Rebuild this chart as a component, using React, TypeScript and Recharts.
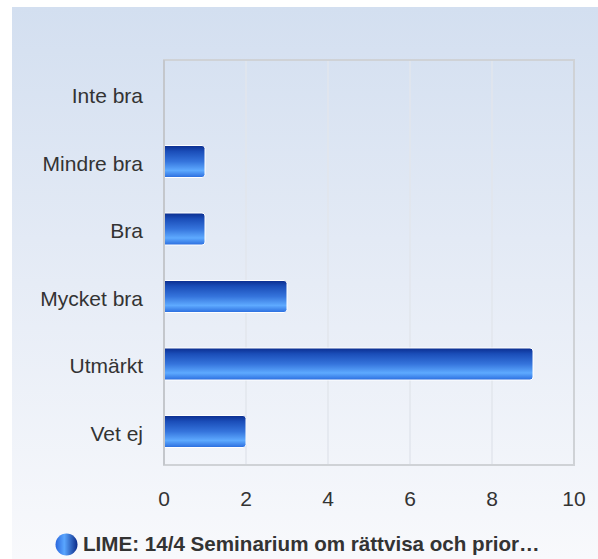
import {
  Bar,
  BarChart,
  CartesianGrid,
  Legend,
  ReferenceArea,
  XAxis,
  YAxis,
} from "recharts";

const categories = ["Inte bra", "Mindre bra", "Bra", "Mycket bra", "Utmärkt", "Vet ej"];
const answers = [0, 1, 1, 3, 9, 2];
const xTicks = [0, 2, 4, 6, 8, 10];
const seriesName = "LIME: 14/4 Seminarium om rättvisa och prior…";

const data = categories.map((label, i) => ({ label, value: answers[i] }));

const FONT = "'Liberation Sans', Arial, sans-serif";

const LegendContent = () => (
  <div
    style={{
      height: 44,
      display: "flex",
      alignItems: "center",
      paddingLeft: 55,
      paddingTop: 14,
      boxSizing: "border-box",
      fontFamily: FONT,
      fontWeight: "bold",
      fontSize: 20.6,
      color: "#333",
    }}
  >
    <svg width={23} height={23} style={{ marginRight: 5 }}>
      <defs>
        <linearGradient id="legendDot" x1="0" y1="0" x2="1" y2="0">
          <stop offset="0%" stopColor="#2a66dc" />
          <stop offset="40%" stopColor="#5aa6ff" />
          <stop offset="100%" stopColor="#0b2a88" />
        </linearGradient>
      </defs>
      <circle cx={11.5} cy={11.5} r={11} fill="url(#legendDot)" />
    </svg>
    <span>{seriesName}</span>
  </div>
);

export default function App() {
  return (
    <div style={{ position: "relative", width: 598, height: 559 }}>
      <style>{"body{margin:0}"}</style>
      <div
        style={{
          position: "absolute",
          left: 12,
          top: 7,
          right: 0,
          bottom: 0,
          background: "linear-gradient(to bottom, #d3dff0 0%, #e6ecf6 50%, #f8f9fc 100%)",
        }}
      />
      <div style={{ position: "absolute", left: 0, top: 0 }}>
        <BarChart
          width={598}
          height={559}
          data={data}
          layout="vertical"
          margin={{ top: 60, right: 24, left: 0, bottom: 0 }}
          barSize={32}
        >
          <defs>
            <linearGradient id="barFill" x1="0" y1="0" x2="0" y2="1">
              <stop offset="0%" stopColor="#0b2d8e" />
              <stop offset="18%" stopColor="#1a4db8" />
              <stop offset="50%" stopColor="#3574dc" />
              <stop offset="78%" stopColor="#5eaaff" />
              <stop offset="100%" stopColor="#2a6cde" />
            </linearGradient>
          </defs>

          <CartesianGrid horizontal={false} stroke="#e2e6ec" strokeWidth={1.5} />

          <ReferenceArea
            x1={0}
            x2={10}
            fill="none"
            stroke="#cfd2d6"
            strokeWidth={2}
            ifOverflow="extendDomain"
          />

          <XAxis
            type="number"
            domain={[0, 10]}
            ticks={xTicks}
            axisLine={false}
            tickLine={false}
            tickSize={6}
            tickMargin={20}
            height={50}
            tick={{ fill: "#333", fontSize: 21, fontFamily: FONT }}
          />

          <YAxis
            type="category"
            dataKey="label"
            width={164}
            axisLine={{ stroke: "#c4c7cc", strokeWidth: 2 }}
            tickLine={false}
            tickSize={6}
            tickMargin={15}
            tick={{ fill: "#333", fontSize: 21, fontFamily: FONT, dy: 2 }}
          />

          <Legend verticalAlign="bottom" content={<LegendContent />} />

          <Bar
            dataKey="value"
            name={seriesName}
            fill="url(#barFill)"
            stroke="#ffffff"
            strokeWidth={1}
            radius={[0, 3, 3, 0]}
            isAnimationActive={false}
          />
        </BarChart>
      </div>
    </div>
  );
}
